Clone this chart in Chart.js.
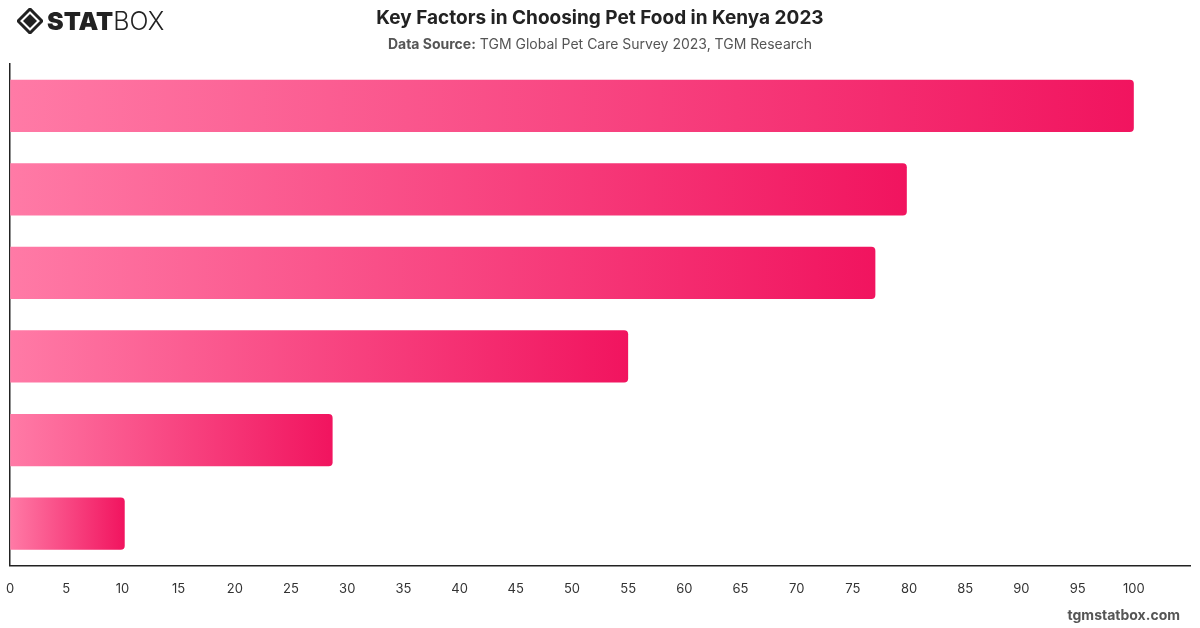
<!DOCTYPE html>
<html>
<head>
<meta charset="utf-8">
<script src="https://cdn.jsdelivr.net/npm/chart.js@4"></script>
<style>
  body { margin: 0; width: 1200px; height: 628px; background: #fff; font-family: Inter, "Open Sans", sans-serif; overflow: hidden; }
  #wrap { position: absolute; left: -10px; top: 0; width: 1210px; height: 628px; }
  #title { position: absolute; top: 6px; left: 0; width: 1200px; text-align: center; font-size: 19px; font-weight: 700; color: #222; }
  #sub { position: absolute; top: 35px; left: 0; width: 1200px; text-align: center; font-size: 14px; color: #555; }
  #sub b { font-weight: 700; }
  #logo { position: absolute; left: 17px; top: 7px; height: 28px; display: flex; align-items: center; }
  #logo .s { font-size: 25px; font-weight: 900; color: #222; margin-left: 4px; }
  #logo .b { font-size: 25px; font-weight: 300; color: #222; }
  #mark { position: absolute; right: 20px; top: 606px; font-size: 14px; font-weight: 700; color: #555; }
</style>
</head>
<body>
<div id="wrap"><canvas id="myChart" width="1210" height="628"></canvas></div>
<div id="logo">
  <svg width="26" height="26" viewBox="0 0 26 26">
    <path d="M13 1 L25 13 L13 25 L1 13 Z" fill="none" stroke="#222" stroke-width="3"/>
    <path d="M13 6 L20 13 L13 20 L6 13 Z" fill="#222"/>
  </svg>
  <span class="s">STAT</span><span class="b">BOX</span>
</div>
<div id="title">Key Factors in Choosing Pet Food in Kenya 2023</div>
<div id="sub"><b>Data Source:</b> TGM Global Pet Care Survey 2023, TGM Research</div>
<div id="mark">tgmstatbox.com</div>
<script>
const categories = ["Factor 1", "Factor 2", "Factor 3", "Factor 4", "Factor 5", "Factor 6"];
const values = [100, 79.8, 77, 55, 28.7, 10.2];
const tickValues = [0, 5, 10, 15, 20, 25, 30, 35, 40, 45, 50, 55, 60, 65, 70, 75, 80, 85, 90, 95, 100];

const ctx = document.getElementById("myChart").getContext("2d");

function barGradient(c) {
  const chart = c.chart;
  const area = chart.chartArea;
  if (!area || !chart.scales.x) return "#f53d7c";
  const x0 = chart.scales.x.getPixelForValue(0);
  const x1 = chart.scales.x.getPixelForValue(values[c.dataIndex]);
  const g = chart.ctx.createLinearGradient(x0, 0, x1, 0);
  g.addColorStop(0, "#ff7aa6");
  g.addColorStop(1, "#f1145f");
  return g;
}

const myChart = new Chart(ctx, {
  type: "bar",
  data: {
    labels: categories,
    datasets: [
      {
        data: values,
        backgroundColor: barGradient,
        borderRadius: { topRight: 4, bottomRight: 4 },
        borderSkipped: "start",
        categoryPercentage: 0.625,
        barPercentage: 1,
      },
    ],
  },
  options: {
    indexAxis: "y",
    responsive: false,
    animation: false,
    layout: { padding: { top: 64, left: 0, right: 10, bottom: 15 } },
    plugins: { legend: { display: false }, tooltip: { enabled: false } },
    scales: {
      x: {
        min: 0,
        max: 105,
        afterBuildTicks: (axis) => {
          axis.ticks = tickValues.map((v) => ({ value: v }));
        },
        grid: { display: false, drawTicks: false },
        border: { display: true, color: "#222", width: 1.5 },
        ticks: { color: "#333", font: { family: "Inter", size: 13 }, padding: 16 },
      },
      y: {
        grid: { display: false, drawTicks: false },
        border: { display: true, color: "#222", width: 1.5 },
        ticks: { display: false },
      },
    },
  },
});
</script>
</body>
</html>
